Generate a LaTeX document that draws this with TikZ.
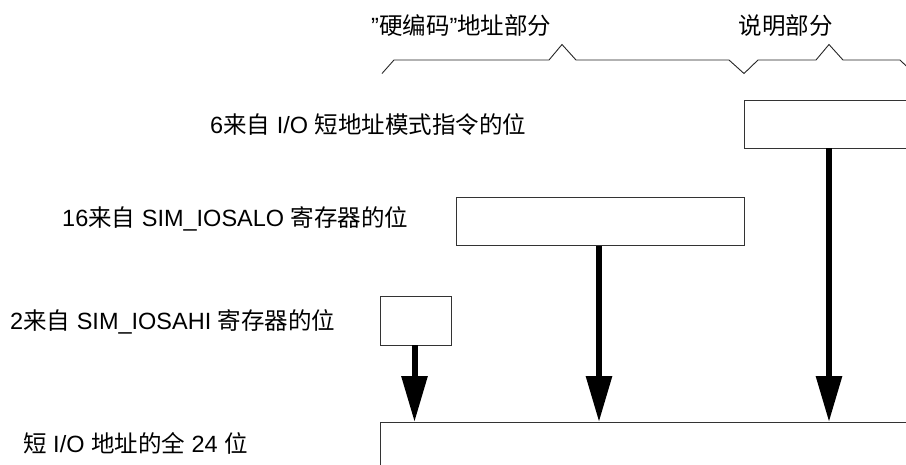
\documentclass[tikz,border=0pt]{standalone}
\usepackage{fontspec}
\setmainfont{Liberation Sans}
\newfontfamily\cjk{Noto Sans CJK SC}
\newcommand{\zh}[1]{{\cjk #1}}
\usetikzlibrary{arrows.meta}
\tikzset{
  lbl/.style={inner sep=0pt, font=\fontsize{23.5}{28}\selectfont, text=black},
  regbox/.style={draw=black!80, line width=0.9pt, fill=white, rectangle, inner sep=0pt, anchor=north west},
  brace/.style={draw=black!85, line width=0.9pt, line join=miter},
  bigarrow/.style={line width=6pt, -{Triangle[length=46pt,width=25pt]}, black},
}
\begin{document}
\begin{tikzpicture}[x=1pt,y=-1pt]
\useasboundingbox (0,0) rectangle (906,464);
\clip (0,0) rectangle (906,464);
% labels
\node[lbl, anchor=base west] (top1) at (371,34) {”\zh{硬编码}"\zh{地址部分}};
\node[lbl, anchor=base] (top2) at (785.5,34) {\zh{说明部分}};
\node[lbl, anchor=base west] (t6) at (210,133) {6\zh{来自} I/O \zh{短地址模式指令的位}};
\node[lbl, anchor=base west] (t16) at (62,226) {16\zh{来自} SIM\_IOSALO \zh{寄存器的位}};
\node[lbl, anchor=base west] (t2) at (10,329) {2\zh{来自} SIM\_IOSAHI \zh{寄存器的位}};
\node[lbl, anchor=base west] (tall) at (23,452) {\zh{短} I/O \zh{地址的全} 24 \zh{位}};
% braces
\path[brace] (382,73.5) -- (394,60) -- (549,60) -- (562,44.5) -- (576,60) -- (729,60) -- (744,73.5)
  -- (758,60) -- (816,60) -- (829,44.5) -- (843,60) -- (900,60) -- (914,73.5);
% boxes
\node[regbox, minimum width=250pt, minimum height=48pt] (bshort) at (744,99.5) {};
\node[regbox, minimum width=288pt, minimum height=48pt] (blo) at (455.5,197) {};
\node[regbox, minimum width=71pt, minimum height=48.5pt] (bhi) at (379.5,296) {};
\node[regbox, minimum width=600pt, minimum height=100pt] (ball) at (379.5,422) {};
% arrows
\coordinate (a1) at (bhi.south -| 414.5,0);
\coordinate (a2) at (blo.south -| 599,0);
\coordinate (a3) at (bshort.south -| 829,0);
\draw[bigarrow] (a1) -- (a1 |- ball.north);
\draw[bigarrow] (a2) -- (a2 |- ball.north);
\draw[bigarrow] (a3) -- (a3 |- ball.north);
\end{tikzpicture}
\end{document}
